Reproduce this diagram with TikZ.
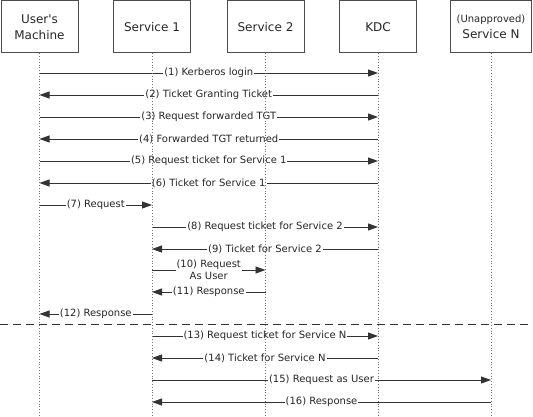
\documentclass[tikz,border=0pt]{standalone}
\usepackage{fontspec}
\setmainfont{DejaVu Sans}
\newfontfamily\plainfont{DejaVu Sans}
\usetikzlibrary{arrows.meta}
\begin{document}
\begin{tikzpicture}[x=1pt,y=-1pt,
 actor/.style={draw=black!70, line width=1pt, minimum width=77pt, minimum height=52pt, align=center,
   font=\fontsize{12}{16}\selectfont, text=black!85, inner sep=0pt},
 msg/.style={draw=black!80, line width=0.9pt, -{Triangle[length=10pt,width=7pt]}},
 lbl/.style={fill=white, inner sep=1pt, font=\fontsize{10}{12}\selectfont, text=black!85, align=center},
 life/.style={draw=black!55, line width=0.8pt, dotted},
 sep/.style={draw=black!80, line width=1pt, dash pattern=on 8pt off 5pt}
]
\useasboundingbox (0,0) rectangle (533,417);

% actors
\node[actor] (ub) at (39.5,27) {{\plainfont User's}\\Machine};
\node[actor] (sa) at (152,27) {Service 1};
\node[actor] (sb) at (265.5,27) {Service 2};
\node[actor] (kd) at (378,27) {KDC};
\node[actor, minimum width=81pt] (sn) at (491,27) {{\fontsize{10}{12}\selectfont (Unapproved)}\\Service N};

% message anchor points on lifelines
\foreach \n/\x in {U/39.5,A/152,B/265.5,K/378,N/491}{
  \foreach \i/\y in {1/73,2/95,3/117,4/139,5/161,6/183,7/205,8/227,9/249,10/270,11/292,12/314,13/336,14/358,15/380,16/402}{
    \coordinate (\n\i) at (\x,\y);
  }
  \coordinate (\n e) at (\x,417);
}

% messages
\draw[msg] (U1) -- node[lbl]{(1) Kerberos login} (K1);
\draw[msg] (K2) -- node[lbl]{(2) Ticket Granting Ticket} (U2);
\draw[msg] (U3) -- node[lbl]{(3) Request forwarded TGT} (K3);
\draw[msg] (K4) -- node[lbl]{(4) Forwarded TGT returned} (U4);
\draw[msg] (U5) -- node[lbl]{(5) Request ticket for Service 1} (K5);
\draw[msg] (K6) -- node[lbl]{(6) Ticket for Service 1} (U6);
\draw[msg] (U7) -- node[lbl]{(7) Request} (A7);
\draw[msg] (A8) -- node[lbl]{(8) Request ticket for Service 2} (K8);
\draw[msg] (K9) -- node[lbl]{(9) Ticket for Service 2} (A9);
\draw[msg] (A10) -- node[lbl]{(10) Request\\As User} (B10);
\draw[msg] (B11) -- node[lbl]{(11) Response} (A11);
\draw[msg] (A12) -- node[lbl]{(12) Response} (U12);
\draw[msg] (A13) -- node[lbl]{(13) Request ticket for Service N} (K13);
\draw[msg] (K14) -- node[lbl]{(14) Ticket for Service N} (A14);
\draw[msg] (A15) -- node[lbl]{(15) Request as User} (N15);
\draw[msg] (N16) -- node[lbl]{(16) Response} (A16);

% separator
\coordinate (dl) at (0,324);
\coordinate (dr) at (533,324);
\draw[sep] (dl) -- (dr);

% lifelines
\draw[life] (ub.south) -- (Ue);
\draw[life] (sa.south) -- (Ae);
\draw[life] (sb.south) -- (Be);
\draw[life] (kd.south) -- (Ke);
\draw[life] (sn.south) -- (Ne);
\end{tikzpicture}
\end{document}
